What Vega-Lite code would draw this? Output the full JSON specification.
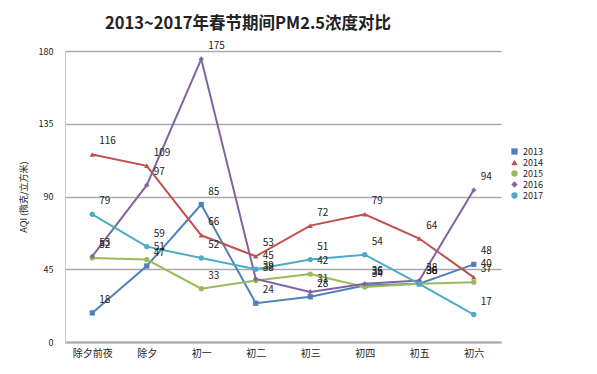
{
  "$schema": "https://vega.github.io/schema/vega-lite/v6.json",
  "width": 436,
  "height": 291,
  "autosize": {"type": "none"},
  "padding": {"left": 65, "top": 51, "right": 96, "bottom": 32},
  "background": "white",
  "config": {"view": {"stroke": null}, "font": "Noto Sans CJK SC"},
  "title": {"text": "2013~2017年春节期间PM2.5浓度对比", "fontSize": 16.5, "fontWeight": "bold", "color": "#222", "offset": 9, "anchor": "middle", "dx": -35},
  "data": {"values": [
    {"day": "除夕前夜", "year": "2013", "v": 18}, {"day": "除夕", "year": "2013", "v": 47}, {"day": "初一", "year": "2013", "v": 85}, {"day": "初二", "year": "2013", "v": 24}, {"day": "初三", "year": "2013", "v": 28}, {"day": "初四", "year": "2013", "v": 35}, {"day": "初五", "year": "2013", "v": 36}, {"day": "初六", "year": "2013", "v": 48},
    {"day": "除夕前夜", "year": "2014", "v": 116}, {"day": "除夕", "year": "2014", "v": 109}, {"day": "初一", "year": "2014", "v": 66}, {"day": "初二", "year": "2014", "v": 53}, {"day": "初三", "year": "2014", "v": 72}, {"day": "初四", "year": "2014", "v": 79}, {"day": "初五", "year": "2014", "v": 64}, {"day": "初六", "year": "2014", "v": 40},
    {"day": "除夕前夜", "year": "2015", "v": 52}, {"day": "除夕", "year": "2015", "v": 51}, {"day": "初一", "year": "2015", "v": 33}, {"day": "初二", "year": "2015", "v": 38}, {"day": "初三", "year": "2015", "v": 42}, {"day": "初四", "year": "2015", "v": 34}, {"day": "初五", "year": "2015", "v": 36}, {"day": "初六", "year": "2015", "v": 37},
    {"day": "除夕前夜", "year": "2016", "v": 53}, {"day": "除夕", "year": "2016", "v": 97}, {"day": "初一", "year": "2016", "v": 175}, {"day": "初二", "year": "2016", "v": 39}, {"day": "初三", "year": "2016", "v": 31}, {"day": "初四", "year": "2016", "v": 36}, {"day": "初五", "year": "2016", "v": 38}, {"day": "初六", "year": "2016", "v": 94},
    {"day": "除夕前夜", "year": "2017", "v": 79}, {"day": "除夕", "year": "2017", "v": 59}, {"day": "初一", "year": "2017", "v": 52}, {"day": "初二", "year": "2017", "v": 45}, {"day": "初三", "year": "2017", "v": 51}, {"day": "初四", "year": "2017", "v": 54}, {"day": "初五", "year": "2017", "v": 36}, {"day": "初六", "year": "2017", "v": 17}
  ]},
  "encoding": {
    "x": {"field": "day", "type": "nominal", "sort": ["除夕前夜", "除夕", "初一", "初二", "初三", "初四", "初五", "初六"],
      "scale": {"type": "point", "padding": 0.5},
      "axis": {"title": null, "labelAngle": 0, "ticks": false, "labelFontSize": 10, "labelColor": "#222", "domainColor": "#aaa", "domainWidth": 2, "labelPadding": 6}},
    "y": {"field": "v", "type": "quantitative", "scale": {"domain": [0, 180], "nice": false},
      "axis": {"values": [0, 45, 90, 135, 180], "title": "AQI (微克/立方米)", "titleFontSize": 9, "titleFontWeight": "normal", "titleColor": "#222", "titlePadding": 10, "labelFontSize": 9, "labelColor": "#222", "labelPadding": 12, "ticks": false, "grid": true, "gridColor": "#aaa", "gridWidth": 1.5, "domainColor": "#ccc"}},
    "color": {"field": "year", "type": "nominal",
      "scale": {"domain": ["2013", "2014", "2015", "2016", "2017"], "range": ["#4F81BD", "#C0504D", "#9BBB59", "#8064A2", "#4BACC6"]},
      "legend": {"title": null, "orient": "none", "legendX": 445, "legendY": 96, "labelFontSize": 9, "labelColor": "#222", "symbolSize": 40, "rowPadding": 1, "symbolStrokeWidth": 0}}
  },
  "layer": [
    {"mark": {"type": "line", "strokeWidth": 2}},
    {"mark": {"type": "point", "filled": true, "size": 28, "opacity": 1},
      "encoding": {"shape": {"field": "year", "type": "nominal", "scale": {"domain": ["2013", "2014", "2015", "2016", "2017"], "range": ["square", "triangle-up", "circle", "diamond", "circle"]}, "legend": null}}},
    {"mark": {"type": "text", "align": "left", "dx": 7, "dy": -13, "fontSize": 10, "color": "#222"},
      "encoding": {"text": {"field": "v", "type": "quantitative"}, "color": {"value": "#222"}}}
  ]
}
